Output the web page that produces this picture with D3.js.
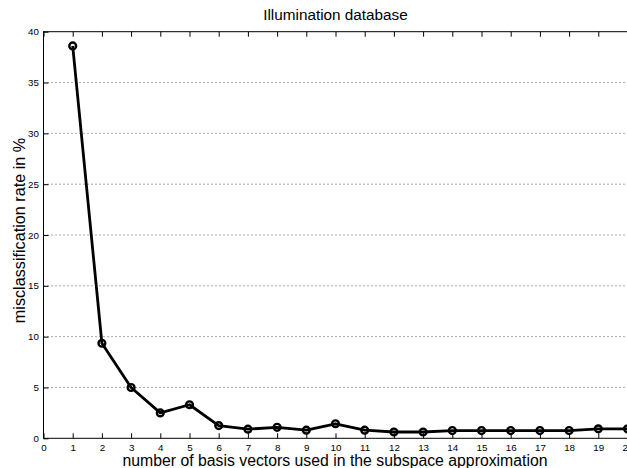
<!DOCTYPE html>
<html><head><meta charset="utf-8">
<script src="https://cdn.jsdelivr.net/npm/d3@7"></script>
<style>body{margin:0;background:#fff}svg{display:block}text{font-family:"Liberation Sans",Arial,sans-serif}</style>
</head><body>
<script>
const basisCounts = [1,2,3,4,5,6,7,8,9,10,11,12,13,14,15,16,17,18,19,20];
const errorRates = [38.6,9.35,5.0,2.5,3.3,1.25,0.9,1.08,0.8,1.43,0.8,0.62,0.62,0.76,0.76,0.76,0.76,0.76,0.93,0.93];
const xTicks = d3.range(0,21);
const yTicks = [0,5,10,15,20,25,30,35,40];
const titleText = "Illumination database";
const xLabel = "number of basis vectors used in the subspace approximation";
const yLabel = "misclassification rate in %";

const W=627,H=468;
const m={left:43.5,right:-0.5,top:31.7,bottom:29.7};
const svg=d3.select("body").append("svg").attr("width",W).attr("height",H);
const x=d3.scaleLinear().domain([0,20]).range([m.left,W-m.right]);
const y=d3.scaleLinear().domain([0,40]).range([H-m.bottom,m.top]);

// grid
svg.append("g").selectAll("line").data(yTicks.filter(d=>d>0&&d<40)).join("line")
 .attr("x1",x(0)).attr("x2",x(20)).attr("y1",d=>y(d)).attr("y2",d=>y(d))
 .attr("stroke","#555").attr("stroke-width",1).attr("stroke-dasharray","1,3");

// axes box
svg.append("rect").attr("x",x(0)).attr("y",y(40)).attr("width",x(20)-x(0)).attr("height",y(0)-y(40))
 .attr("fill","none").attr("stroke","#000").attr("stroke-width",1);

// ticks
const tl=5;
const bottomAxis=d3.axisBottom(x).tickValues(xTicks).tickSize(-tl).tickPadding(5.5).tickFormat(d3.format("d"));
const ba=svg.append("g").attr("transform",`translate(0,${y(0)})`).call(bottomAxis);
const topAxis=d3.axisTop(x).tickValues(xTicks).tickSize(-tl).tickFormat("");
const ta=svg.append("g").attr("transform",`translate(0,${y(40)})`).call(topAxis);
const leftAxis=d3.axisLeft(y).tickValues(yTicks).tickSize(-tl).tickPadding(4.5).tickFormat(d3.format("d"));
const la=svg.append("g").attr("transform",`translate(${x(0)},0)`).call(leftAxis);
[ba,ta,la].forEach(a=>{a.select(".domain").remove();a.selectAll("line").attr("stroke","#000");
 a.selectAll("text").attr("font-size",9.8).attr("fill","#000").style("font-family","Liberation Sans, Arial, sans-serif");});

// line
const line=d3.line().x((d,i)=>x(basisCounts[i])).y(d=>y(d));
svg.append("path").datum(errorRates).attr("d",line).attr("fill","none")
 .attr("stroke","#000").attr("stroke-width",2.8).attr("stroke-linejoin","round");
svg.append("g").selectAll("circle").data(errorRates).join("circle")
 .attr("cx",(d,i)=>x(basisCounts[i])).attr("cy",d=>y(d)).attr("r",3.4)
 .attr("fill","none").attr("stroke","#000").attr("stroke-width",2.4);

// labels
svg.append("text").attr("x",(x(0)+x(20))/2).attr("y",20).attr("text-anchor","middle")
 .attr("font-size",15.3).text(titleText);
svg.append("text").attr("x",(x(0)+x(20))/2 - 0.5).attr("y",466).attr("text-anchor","middle")
 .attr("font-size",15.8).text(xLabel);
svg.append("text").attr("transform",`translate(25,230.5) rotate(-90)`).attr("text-anchor","middle")
 .attr("font-size",16.2).text(yLabel);
</script>
</body></html>
